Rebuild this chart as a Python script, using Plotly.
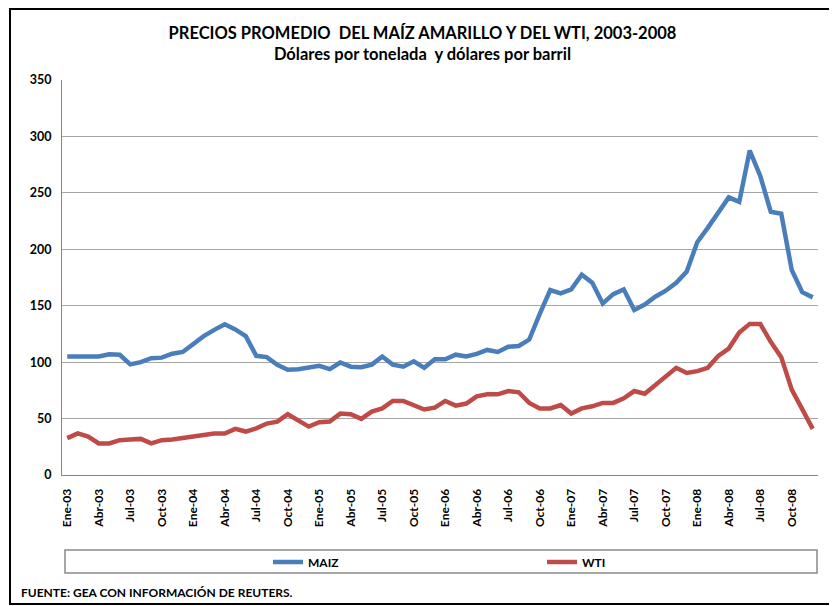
import plotly.graph_objects as go

MONTHS = ["Ene", "Feb", "Mar", "Abr", "May", "Jun", "Jul", "Ago", "Sep", "Oct", "Nov", "Dic"]
YEARS = ["03", "04", "05", "06", "07", "08"]
categories = [f"{m}-{y}" for y in YEARS for m in MONTHS]

maiz = [105, 105.5, 105, 105, 107, 106.5, 98, 100, 103.5, 104, 107.5, 109,
        116, 123, 128.6, 133.5, 129, 123, 105.6, 104.5, 97.7, 93.3, 93.8, 95.5,
        96.7, 93.8, 99.7, 96, 95.5, 97.8, 105, 97.8, 96, 100.8, 95, 102.5,
        102.5, 106.6, 105, 107.3, 110.8, 109, 113.7, 114.3, 120, 142.7, 163.9, 161,
        164.5, 177.4, 170.3, 152, 160.3, 164.5, 146.2, 151, 158, 163.3, 170.3, 180.3,
        206.2, 219, 232.7, 246, 242, 287.5, 265, 233.3, 231.5, 181.6, 162, 157.4]

wti = [32.7, 36.8, 34, 28, 28, 30.9, 31.5, 32, 28, 30.9, 31.5, 32.7,
       34.4, 35.6, 36.8, 36.8, 40.9, 38.5, 41.4, 45.6, 47.3, 53.8, 48.6, 42.9,
       46.8, 47.3, 54.4, 53.8, 49.7, 56.2, 59, 65.6, 65.6, 62, 58, 59.7,
       65.6, 61.5, 63.3, 69.7, 71.5, 71.5, 74.4, 73.3, 63.9, 59, 59, 62,
       54.4, 59, 60.9, 63.9, 63.9, 68, 74.4, 72, 79.7, 86.2, 95, 90.4,
       92, 95, 105.6, 112, 126.2, 133.9, 133.9, 118, 104.4, 75.6, 58, 40.9]

tick_labels = categories[::3]
y_ticks = [0, 50, 100, 150, 200, 250, 300, 350]

FONT = "Lato"

# The page places the figure 8px from the top-left corner of the window,
# so the figure is sized and laid out in window coordinates minus 8px.
OFF = 8
W, H = 837 - OFF, 606 - OFF
PL, PR, PT, PB = 62, 818, 80, 475  # plot area in window coordinates


def px(x):
    return (x - PL) / (PR - PL)


def py(y):
    return (PB - y) / (PB - PT)


fig = go.Figure()
fig.add_trace(go.Scatter(x=categories, y=maiz, name="<b>MAIZ</b>", mode="lines",
                         line=dict(color="#4a7ebb", width=4.5)))
fig.add_trace(go.Scatter(x=categories, y=wti, name="<b>WTI</b>", mode="lines",
                         line=dict(color="#be4b48", width=4.5)))

fig.update_layout(
    width=W, height=H,
    paper_bgcolor="white", plot_bgcolor="white",
    margin=dict(l=PL - OFF, r=W - (PR - OFF), t=PT - OFF, b=H - (PB - OFF), autoexpand=False),
    font=dict(family=FONT, color="black"),
    title=dict(
        text="<b>PRECIOS PROMEDIO  DEL MAÍZ AMARILLO Y DEL WTI, 2003-2008</b><br><b>Dólares por tonelada  y dólares por barril</b>",
        x=(422.5 - OFF) / W, xanchor="center", y=1 - 31 / H, yanchor="top",
        font=dict(size=16.5, family=FONT, color="black")),
    xaxis=dict(type="category", categoryorder="array", categoryarray=categories,
               tickvals=tick_labels, ticktext=[f"<b>{t}</b>" for t in tick_labels],
               tickangle=-90, tickfont=dict(size=12, family=FONT),
               ticklabelstandoff=8,
               showgrid=False, showline=True, linecolor="#868686", linewidth=1,
               range=[-0.5, 71.5], ticks="", zeroline=False),
    yaxis=dict(range=[0, 350], tickvals=y_ticks,
               ticktext=[f"<b>{v}</b>" for v in y_ticks],
               tickfont=dict(size=12.5, family=FONT),
               ticklabelstandoff=7,
               showgrid=True, gridcolor="#a6a6a6", gridwidth=1,
               showline=True, linecolor="#868686", linewidth=1,
               zeroline=False, ticks=""),
    legend=dict(orientation="h", x=px(268), xanchor="left", y=py(562), yanchor="middle",
                entrywidth=229, font=dict(size=12, family=FONT),
                bgcolor="rgba(0,0,0,0)", itemwidth=30),
    showlegend=True,
)

# legend box
fig.add_shape(type="rect", xref="paper", yref="paper",
              x0=px(65), x1=px(817), y0=py(573), y1=py(550),
              line=dict(color="#8a8a8a", width=1.5), fillcolor="rgba(0,0,0,0)")
# outer frame
fig.add_shape(type="rect", xref="paper", yref="paper",
              x0=px(10), x1=px(832), y0=py(604), y1=py(9),
              line=dict(color="black", width=2), fillcolor="rgba(0,0,0,0)")

fig.add_annotation(text="<b>FUENTE: GEA CON INFORMACIÓN DE REUTERS.</b>",
                   xref="paper", yref="paper", x=px(19), xanchor="left",
                   y=py(592), yanchor="middle", showarrow=False,
                   font=dict(size=12, family=FONT, color="black"))

fig.write_html("out.html")
